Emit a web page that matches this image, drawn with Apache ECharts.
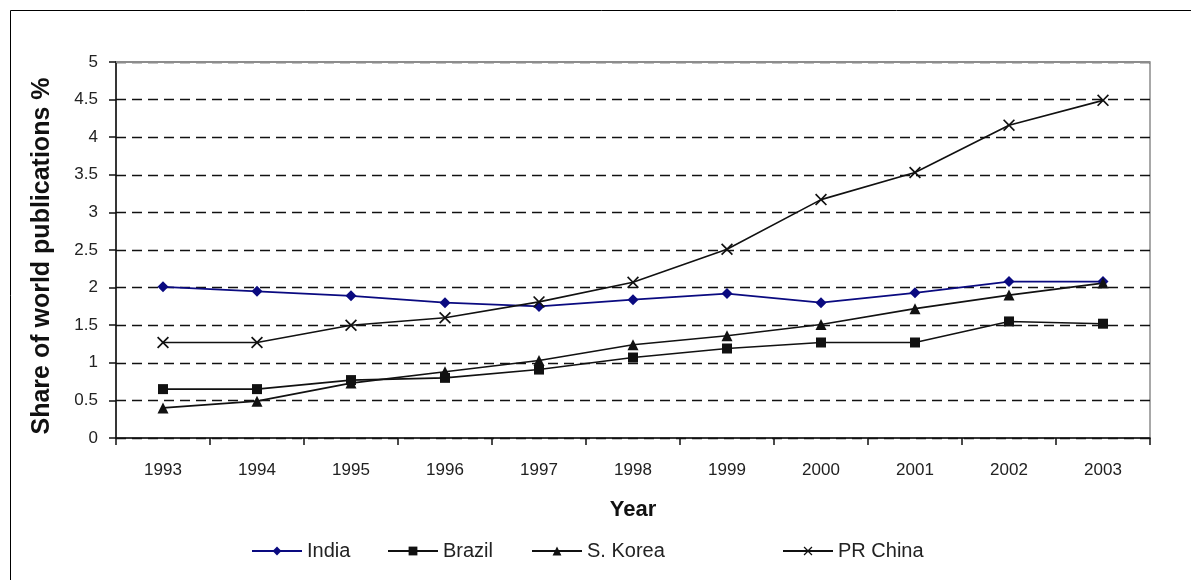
<!DOCTYPE html>
<html>
<head>
<meta charset="utf-8">
<script src="https://cdn.jsdelivr.net/npm/echarts@6/dist/echarts.min.js"></script>
<style>
  html, body { margin: 0; padding: 0; background: #fff; }
  #chart { width: 1191px; height: 580px; }
</style>
</head>
<body>
<div id="chart"></div>
<script>
// Share of world publications (%) by year
const years = ['1993', '1994', '1995', '1996', '1997', '1998', '1999', '2000', '2001', '2002', '2003'];
const india   = [2.01, 1.95, 1.89, 1.80, 1.75, 1.84, 1.92, 1.80, 1.93, 2.08, 2.08];
const brazil  = [0.65, 0.65, 0.77, 0.80, 0.91, 1.07, 1.19, 1.27, 1.27, 1.55, 1.52];
const korea   = [0.40, 0.49, 0.73, 0.88, 1.03, 1.24, 1.36, 1.51, 1.72, 1.90, 2.06];
const china   = [1.27, 1.27, 1.50, 1.60, 1.81, 2.07, 2.51, 3.17, 3.53, 4.16, 4.49];
const seriesNames = ['India', 'Brazil', 'S. Korea', 'PR China'];

const FONT = 'Liberation Sans, Arial, sans-serif';
// filled "x" marker
const crossPath = 'path://M0,1L1,0L5,4L9,0L10,1L6,5L10,9L9,10L5,6L1,10L0,9L4,5Z';

function lineSeries(name, data, color, symbol, size) {
  return {
    name: name,
    type: 'line',
    data: data,
    symbol: symbol,
    symbolSize: size,
    showAllSymbol: true,
    lineStyle: { color: color, width: 1.6 },
    itemStyle: { color: color },
    emphasis: { disabled: true },
    z: 3,
    animation: false
  };
}

// one legend entry per slot along the bottom row
const legendLeft = [246, 382, 526, 777];
const legends = seriesNames.map(function (name, i) {
  return {
    data: [name],
    left: legendLeft[i],
    bottom: 14,
    itemWidth: 50,
    itemHeight: 11,
    selectedMode: false,
    textStyle: { fontFamily: FONT, fontSize: 20, color: '#222' }
  };
});

const chart = echarts.init(document.getElementById('chart'));
chart.setOption({
  backgroundColor: '#fff',
  animation: false,
  graphic: [
    {
      // outer chart frame
      type: 'rect',
      shape: { x: 10.5, y: 10.5, width: 1250, height: 650 },
      style: { fill: 'none', stroke: '#000', lineWidth: 1 },
      silent: true
    },
    {
      // solid top edge of the plot frame
      type: 'line',
      shape: { x1: 116, y1: 62, x2: 1150, y2: 62 },
      style: { stroke: '#8c8c8c', lineWidth: 2 },
      z: 1,
      silent: true
    }
  ],
  grid: {
    left: 116, right: 41, top: 62, bottom: 142,
    show: true, borderColor: '#8c8c8c', borderWidth: 1.5, backgroundColor: 'transparent'
  },
  legend: legends,
  xAxis: {
    type: 'category',
    data: years,
    boundaryGap: true,
    name: 'Year',
    nameLocation: 'middle',
    nameGap: 61,
    nameTextStyle: { fontFamily: FONT, fontSize: 22, fontWeight: 'bold', color: '#111' },
    axisLine: { lineStyle: { color: '#111', width: 1.5 } },
    axisTick: { show: true, alignWithLabel: false, length: 7, lineStyle: { color: '#111', width: 1.5 } },
    axisLabel: { fontFamily: FONT, fontSize: 17, color: '#222', margin: 24 },
    splitLine: { show: false }
  },
  yAxis: {
    type: 'value',
    min: 0, max: 5, interval: 0.5,
    name: 'Share of world publications %',
    nameLocation: 'middle',
    nameGap: 61,
    nameTextStyle: { fontFamily: FONT, fontSize: 25, fontWeight: 'bold', color: '#111', padding: [0, 12, 0, 0] },
    axisLine: { show: true, lineStyle: { color: '#111', width: 1.5 } },
    axisTick: { show: true, length: 7, lineStyle: { color: '#111', width: 1.5 } },
    axisLabel: { fontFamily: FONT, fontSize: 17, color: '#222', margin: 18 },
    splitLine: { show: true, lineStyle: { color: '#111', width: 1.3, type: [10, 6] } }
  },
  series: [
    lineSeries('India', india, '#0a0a80', 'diamond', 11),
    lineSeries('Brazil', brazil, '#111', 'rect', 10),
    lineSeries('S. Korea', korea, '#111', 'triangle', 11),
    lineSeries('PR China', china, '#111', crossPath, 12)
  ]
});
</script>
</body>
</html>
